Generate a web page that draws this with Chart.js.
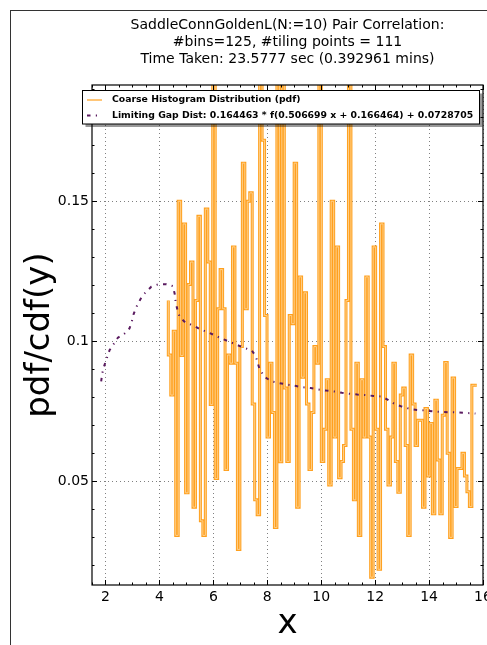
<!DOCTYPE html>
<html>
<head>
<meta charset="utf-8">
<script src="https://cdn.jsdelivr.net/npm/chart.js@4.4.1/dist/chart.umd.min.js"></script>
<style>
  html, body { margin: 0; padding: 0; background: #fff; overflow: hidden; }
  #wrap { position: relative; width: 487px; height: 645px; }
  #frame { position: absolute; left: 10px; top: 10px; width: 700px; height: 800px;
           border-left: 1.5px solid #333; border-top: 1.5px solid #333; }
  canvas { position: absolute; left: 0; top: 0; }
</style>
</head>
<body>
<div id="wrap">
  <div id="frame"></div>
  <canvas id="graph" width="487" height="645"></canvas>
</div>
<script>
// pair correlation histogram vs limiting gap distribution

const titleLines = [
  'SaddleConnGoldenL(N:=10) Pair Correlation:',
  '#bins=125, #tiling points = 111',
  'Time Taken: 23.5777 sec (0.392961 mins)'
];
const histLabel = 'Coarse Histogram Distribution (pdf)';
const gapLabel = 'Limiting Gap Dist: 0.164463 * f(0.506699 x + 0.166464) + 0.0728705';

// histogram: 125 equal bins between histStart and histEnd
const histStart = 4.33;
const histEnd = 15.77;
const histValues = [
  0.1146, 0.0951, 0.0808, 0.1036, 0.0307, 0.1500, 0.0949, 0.1419, 0.0459, 0.1203,
  0.1283, 0.0408, 0.1146, 0.1446, 0.0359, 0.0307, 0.1472, 0.1283, 0.0774, 0.2000,
  0.0510, 0.1116, 0.1256, 0.1116, 0.0542, 0.0951, 0.0922, 0.1337, 0.0922, 0.0257,
  0.0981, 0.1636, 0.1116, 0.1500, 0.1530, 0.0776, 0.0434, 0.0381, 0.2000, 0.1718,
  0.1092, 0.0658, 0.0922, 0.0746, 0.0335, 0.2000, 0.0570, 0.2000, 0.0833, 0.0571,
  0.1092, 0.1063, 0.1636, 0.0408, 0.1230, 0.0872, 0.1173, 0.0776, 0.0542, 0.0746,
  0.0981, 0.0922, 0.2000, 0.0571, 0.0686, 0.0863, 0.0487, 0.1500, 0.0658, 0.1337,
  0.0513, 0.0571, 0.0628, 0.1146, 0.2000, 0.0686, 0.0434, 0.0922, 0.0307, 0.0863,
  0.0658, 0.1230, 0.0658, 0.0158, 0.1337, 0.0686, 0.0186, 0.1419, 0.0981, 0.0686,
  0.0487, 0.0658, 0.0922, 0.0571, 0.0461, 0.0808, 0.0833, 0.0628, 0.0307, 0.0951,
  0.0776, 0.0628, 0.0718, 0.0718, 0.0408, 0.0760, 0.0519, 0.0707, 0.0384, 0.0790,
  0.0576, 0.0384, 0.0736, 0.0924, 0.0600, 0.0300, 0.0869, 0.0410, 0.0546, 0.0546,
  0.0600, 0.0519, 0.0463, 0.0410, 0.0843
];

// limiting gap distribution curve
const gapX = [
  1.84, 1.88, 1.96, 2.15, 2.46, 2.71, 2.89, 2.98, 3.05, 3.16,
  3.30, 3.47, 3.70, 3.94, 4.26, 4.50, 4.57, 4.60, 4.67, 4.75,
  4.96, 5.25, 5.49, 5.77, 6.04, 6.30, 6.58, 6.86, 7.13, 7.42,
  7.57, 7.72, 7.91, 8.16, 8.43, 8.72, 9.03, 9.31, 9.61, 9.90,
  10.19, 10.48, 10.77, 11.04, 11.34, 11.63, 11.94, 12.22, 12.46, 12.71,
  12.99, 13.28, 13.55, 13.86, 14.14, 14.44, 14.72, 15.04, 15.35, 15.63,
  15.72
];
const gapY = [
  0.0857, 0.0886, 0.0914, 0.0968, 0.1013, 0.1028, 0.1046, 0.1072, 0.1099, 0.1125,
  0.1151, 0.1173, 0.1195, 0.1203, 0.1204, 0.1197, 0.1168, 0.1141, 0.1111, 0.1087,
  0.1067, 0.1057, 0.1044, 0.1033, 0.1022, 0.1010, 0.0999, 0.0988, 0.0977, 0.0968,
  0.0947, 0.0899, 0.0872, 0.0857, 0.0851, 0.0846, 0.0841, 0.0836, 0.0833, 0.0828,
  0.0824, 0.0821, 0.0816, 0.0813, 0.0810, 0.0808, 0.0805, 0.0803, 0.0792, 0.0777,
  0.0767, 0.0759, 0.0755, 0.0753, 0.0750, 0.0748, 0.0747, 0.0746, 0.0744, 0.0743,
  0.0742
];

const xTicks = [2, 4, 6, 8, 10, 12, 14, 16];
const yTicks = [0.05, 0.1, 0.15];
const xMinorStep = 0.5;
const yMinorStep = 0.01;

Chart.defaults.font.family = "'DejaVu Sans', 'Liberation Sans', sans-serif";
Chart.defaults.color = '#000';

const binWidth = (histEnd - histStart) / histValues.length;
const histPoints = histValues.map((v, i) => ({ x: histStart + i * binWidth, y: v }));
histPoints.push({ x: histEnd, y: histValues[histValues.length - 1] });

const gapPoints = gapX.map((x, i) => ({ x: x, y: gapY[i] }));

// title lines above the axes
const figTitle = {
  id: 'figTitle',
  afterDraw(chart) {
    const { ctx, chartArea } = chart;
    const cx = (chartArea.left + chartArea.right) / 2;
    ctx.save();
    ctx.font = "14px 'DejaVu Sans'";
    ctx.fillStyle = '#000';
    ctx.textAlign = 'center';
    ctx.textBaseline = 'middle';
    titleLines.forEach((t, i) => ctx.fillText(t, cx, 25 + i * 17));
    ctx.restore();
  }
};

// matplotlib style box with inward major/minor ticks
const axesBox = {
  id: 'axesBox',
  afterDatasetsDraw(chart) {
    const { ctx, chartArea: a, scales: { x, y } } = chart;
    ctx.save();
    ctx.strokeStyle = '#000';
    ctx.lineWidth = 1;
    ctx.beginPath();
    for (let k = Math.ceil(x.min / xMinorStep); k * xMinorStep <= x.max + 1e-9; k++) {
      const v = k * xMinorStep;
      const len = xTicks.some(t => Math.abs(t - v) < 1e-6) ? 5 : 2.5;
      const px = Math.round(x.getPixelForValue(v)) + 0.5;
      ctx.moveTo(px, a.bottom); ctx.lineTo(px, a.bottom - len);
      ctx.moveTo(px, a.top); ctx.lineTo(px, a.top + len);
    }
    for (let k = Math.ceil(y.min / yMinorStep); k * yMinorStep <= y.max + 1e-9; k++) {
      const v = k * yMinorStep;
      const len = yTicks.some(t => Math.abs(t - v) < 1e-6) ? 5 : 2.5;
      const py = Math.round(y.getPixelForValue(v)) + 0.5;
      ctx.moveTo(a.left, py); ctx.lineTo(a.left + len, py);
      ctx.moveTo(a.right, py); ctx.lineTo(a.right - len, py);
    }
    yTicks.forEach(v => {
      const py = Math.round(y.getPixelForValue(v)) + 0.5;
      ctx.moveTo(a.left, py); ctx.lineTo(a.left + 5, py);
      ctx.moveTo(a.right, py); ctx.lineTo(a.right - 5, py);
    });
    ctx.stroke();
    ctx.lineWidth = 1.2;
    ctx.strokeRect(a.left, a.top, a.right - a.left, a.bottom - a.top);
    ctx.restore();
  }
};

// legend box in the upper part of the axes, with drop shadow
const boxLegend = {
  id: 'boxLegend',
  afterDraw(chart) {
    const ctx = chart.ctx;
    const items = chart.data.datasets.filter(d => d.label);
    const bx = 82.5, by = 90.5, bw = 397, bh = 33.5;
    ctx.save();
    ctx.fillStyle = 'rgba(0,0,0,0.4)';
    ctx.fillRect(bx + 3, by + 3, bw, bh);
    ctx.fillStyle = '#fff';
    ctx.fillRect(bx, by, bw, bh);
    ctx.strokeStyle = '#000';
    ctx.lineWidth = 1;
    ctx.strokeRect(bx, by, bw, bh);
    ctx.font = "bold 9.3px 'DejaVu Sans'";
    ctx.textBaseline = 'middle';
    ctx.fillStyle = '#000';
    items.forEach((d, i) => {
      const ly = 100 + i * 15.5;
      ctx.save();
      ctx.strokeStyle = d.borderColor;
      ctx.lineWidth = d.legendWidth || d.borderWidth;
      ctx.setLineDash(d.borderDash || []);
      ctx.beginPath();
      ctx.moveTo(87, ly);
      ctx.lineTo(102, ly);
      ctx.stroke();
      ctx.restore();
      ctx.fillText(d.label, 112, ly);
    });
    ctx.restore();
  }
};

new Chart(document.getElementById('graph'), {
  type: 'line',
  data: {
    datasets: [
      {
        label: histLabel,
        data: histPoints,
        stepped: 'after',
        borderColor: '#ffa01e',
        borderWidth: 3,
        legendWidth: 1.2,
        pointRadius: 0,
        fill: false,
        order: 2
      },
      {
        label: '',
        data: histPoints,
        stepped: 'after',
        borderColor: '#ffd08c',
        borderWidth: 1,
        pointRadius: 0,
        fill: false,
        order: 1
      },
      {
        label: gapLabel,
        data: gapPoints,
        borderColor: '#5a1a5f',
        borderWidth: 2,
        borderDash: [3.5, 5.3, 1.2, 5.3],
        pointRadius: 0,
        tension: 0,
        fill: false,
        order: 0
      }
    ]
  },
  options: {
    responsive: false,
    animation: false,
    devicePixelRatio: 1,
    layout: { padding: { top: 85, right: 4, left: 0, bottom: 0 } },
    plugins: {
      legend: { display: false },
      title: { display: false },
      tooltip: { enabled: false }
    },
    scales: {
      x: {
        type: 'linear',
        min: 1.5,
        max: 16,
        afterBuildTicks: s => { s.ticks = xTicks.map(v => ({ value: v })); },
        afterFit: s => { s.height = 60; s.paddingLeft = 0; s.paddingRight = 0; },
        grid: { color: '#808080', lineWidth: 1, drawTicks: false },
        border: { display: false, dash: [1, 3] },
        ticks: { font: { size: 14 }, padding: 4, maxRotation: 0, autoSkip: false,
                 callback: v => String(v) },
        title: { display: true, text: 'x', font: { size: 34, lineHeight: 1 },
                 padding: { top: 0, bottom: 4 } }
      },
      y: {
        type: 'linear',
        min: 0.013,
        max: 0.1915,
        afterBuildTicks: s => { s.ticks = yTicks.map(v => ({ value: v })); },
        afterFit: s => { s.width = 92; s.paddingTop = 0; s.paddingBottom = 0; },
        grid: { color: '#808080', lineWidth: 1, drawTicks: false },
        border: { display: false, dash: [1, 3] },
        ticks: { font: { size: 14 }, padding: 3, callback: v => String(v) },
        title: { display: true, text: 'pdf/cdf(y)', font: { size: 34, lineHeight: 1 },
                 padding: { top: 23, bottom: 0 } }
      }
    }
  },
  plugins: [axesBox, boxLegend, figTitle]
});
</script>
</body>
</html>
